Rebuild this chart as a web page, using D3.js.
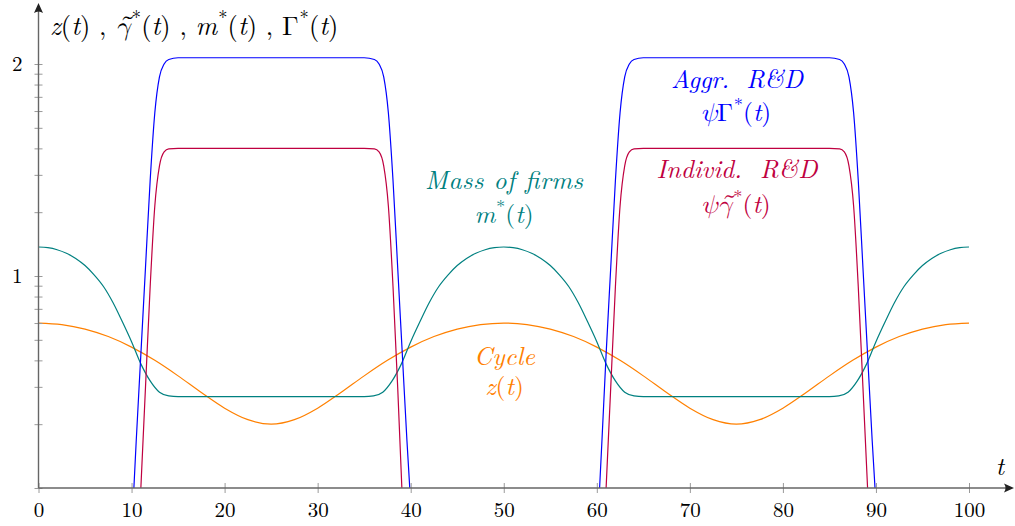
<!DOCTYPE html>
<html>
<head>
<meta charset="utf-8">
<script src="https://cdn.jsdelivr.net/npm/d3@7"></script>
<style>
	body { margin: 0; background: #fff; }
</style>
</head>
<body>
<svg id="chart" width="1015" height="526"></svg>
<script>
// values (y axis is log10)
var tCycle = [0, 2.5, 5, 7.5, 10, 12.5, 15, 17.5, 20, 22.5, 25, 27.5, 30, 32.5, 35, 37.5, 40, 42.5, 45, 47.5,
	50, 52.5, 55, 57.5, 60, 62.5, 65, 67.5, 70, 72.5, 75, 77.5, 80, 82.5, 85, 87.5, 90, 92.5, 95, 97.5, 100];
var zCycle = [6.0, 5.9, 5.62, 5.18, 4.62, 4.0, 3.38, 2.82, 2.38, 2.1, 2.0, 2.1, 2.38, 2.82, 3.38, 4.0, 4.62, 5.18, 5.62, 5.9,
	6.0, 5.9, 5.62, 5.18, 4.62, 4.0, 3.38, 2.82, 2.38, 2.1, 2.0, 2.1, 2.38, 2.82, 3.38, 4.0, 4.62, 5.18, 5.62, 5.9, 6.0];

var tMass = [0, 1, 2, 3, 4, 5, 6, 7, 8, 9, 10, 11, 12, 13, 14, 15, 35, 36, 37, 38, 39, 40, 41, 42, 43, 44, 45, 46, 47, 48, 49,
	50, 51, 52, 53, 54, 55, 56, 57, 58, 59, 60, 61, 62, 63, 64, 65, 85, 86, 87, 88, 89, 90, 91, 92, 93, 94, 95, 96, 97, 98, 99, 100];
var mMass = [13.7, 13.6, 13.3, 12.8, 12.1, 11.2, 10.1, 8.9, 7.5, 6.1, 4.9, 3.85, 3.2, 2.83, 2.72, 2.7, 2.7, 2.72, 2.83, 3.2, 3.85,
	4.9, 6.1, 7.5, 8.9, 10.1, 11.2, 12.1, 12.8, 13.3, 13.6,
	13.7, 13.6, 13.3, 12.8, 12.1, 11.2, 10.1, 8.9, 7.5, 6.1, 4.9, 3.85, 3.2, 2.83, 2.72, 2.7, 2.7, 2.72, 2.83, 3.2, 3.85,
	4.9, 6.1, 7.5, 8.9, 10.1, 11.2, 12.1, 12.8, 13.3, 13.6, 13.7];

// null splits the two pulses (they drop below the axis in between)
var tAggr = [10.25, 10.5, 11, 11.5, 12, 12.5, 13, 13.5, 14, 15, 35, 36.1, 36.6, 37.1, 37.6, 38.1, 38.6, 39.1, 39.6, 39.9, 50,
	60.3, 60.55, 61, 61.5, 62, 62.5, 63, 63.5, 64, 65, 85, 86.1, 86.6, 87.1, 87.6, 88.1, 88.6, 89.1, 89.6, 89.9];
var gAggr = [1, 1.66, 4.27, 11, 28.2, 58.9, 87, 100, 105, 107, 107, 105, 100, 87, 58.9, 28.2, 11, 4.27, 1.66, 1, null,
	1, 1.66, 4.27, 11, 28.2, 58.9, 87, 100, 105, 107, 107, 105, 100, 87, 58.9, 28.2, 11, 4.27, 1.66, 1];

var tInd = [11, 11.5, 12, 12.5, 13, 13.5, 14, 15, 35, 36.1, 36.6, 37.1, 37.6, 38.1, 38.6, 39.05, 50,
	61, 61.5, 62, 62.5, 63, 63.5, 64, 65, 85, 86.1, 86.6, 87.1, 87.6, 88.1, 88.6, 89.1];
var gInd = [1, 3, 8.9, 21.4, 33.1, 38.5, 39.8, 40, 40, 39.8, 38.5, 33.1, 21.4, 8.9, 3, 1, null,
	1, 3, 8.9, 21.4, 33.1, 38.5, 39.8, 40, 40, 39.8, 38.5, 33.1, 21.4, 8.9, 3, 1];

var xTicks = [0, 10, 20, 30, 40, 50, 60, 70, 80, 90, 100];
var yMajor = [10, 100];

var FONT = "'Latin Modern Roman', 'FreeSerif', serif";
var GREEK = "'Latin Modern Math', 'FreeSerif', serif";

var svg = d3.select("#chart");

var x = d3.scaleLinear().domain([0, 100]).range([38.5, 969]);
var y = d3.scaleLog().domain([1, 100]).range([488, 64]);

function zip(ts, vs) {
	return ts.map(function(t, i) { return { t: t, v: vs[i] }; });
}

var line = d3.line()
	.defined(function(d) { return d.v != null; })
	.x(function(d) { return x(d.t); })
	.y(function(d) { return y(d.v); })
	.curve(d3.curveMonotoneX);

svg.append("clipPath").attr("id", "plot")
	.append("rect").attr("x", 38).attr("y", 0).attr("width", 940).attr("height", 488);

var series = [
	{ data: zip(tCycle, zCycle), colour: "#ff8000" },
	{ data: zip(tMass, mMass), colour: "#008080" },
	{ data: zip(tInd, gInd), colour: "#bf0040" },
	{ data: zip(tAggr, gAggr), colour: "#0000ff" }
];

svg.append("g").attr("clip-path", "url(#plot)").selectAll(".curve")
	.data(series)
  .enter().append("path")
	.attr("class", "curve")
	.attr("d", function(d) { return line(d.data); })
	.attr("fill", "none")
	.attr("stroke", function(d) { return d.colour; })
	.attr("stroke-width", 1.2);

// axes
var xAxis = svg.append("g")
	.attr("transform", "translate(0,488)")
	.call(d3.axisBottom(x).tickValues(xTicks).tickFormat(d3.format("d")));
xAxis.select(".domain").remove();
xAxis.selectAll(".tick line").attr("y1", -5).attr("y2", 5).attr("stroke", "#9a9a9a");
xAxis.selectAll(".tick text")
	.attr("y", 29).attr("dy", null)
	.attr("fill", "#000")
	.style("font-family", FONT)
	.style("font-size", "21px");

var yAxis = svg.append("g")
	.attr("transform", "translate(38.5,0)")
	.call(d3.axisLeft(y).tickValues(y.ticks()).tickFormat(function(d) {
		return yMajor.indexOf(d) >= 0 ? Math.round(Math.log10(d)) : "";
	}));
yAxis.select(".domain").remove();
yAxis.selectAll(".tick line").attr("x1", -4).attr("x2", 4).attr("stroke", "#9a9a9a");
yAxis.selectAll(".tick text")
	.attr("x", -16).attr("dy", "0.33em")
	.attr("fill", "#000")
	.style("font-family", FONT)
	.style("font-size", "21px");

svg.append("line")
	.attr("x1", 38.5).attr("y1", 488).attr("x2", 1009).attr("y2", 488)
	.attr("stroke", "#666").attr("stroke-width", 1.4);
svg.append("line")
	.attr("x1", 38.5).attr("y1", 488).attr("x2", 38.5).attr("y2", 8)
	.attr("stroke", "#666").attr("stroke-width", 1.4);
svg.append("path")
	.attr("d", "M1014,488 L1004,483.5 Q1007,488 1004,492.5 Z")
	.attr("fill", "#222");
svg.append("path")
	.attr("d", "M38.5,3 L34,13 Q38.5,10 43,13 Z")
	.attr("fill", "#222");

// math labels: parts are [text, kind]
// i = italic, n = upright, s = superscript, g = italic greek, G = upright greek
function mathText(x0, y0, parts, colour, size, anchor) {
	var text = svg.append("text")
		.attr("x", x0).attr("y", y0)
		.attr("text-anchor", anchor || "middle")
		.attr("fill", colour)
		.style("font-family", FONT)
		.style("font-size", size + "px")
		.style("white-space", "pre");
	var lifted = 0;
	parts.forEach(function(p) {
		var ts = text.append("tspan").text(p[0]);
		if (p[1] === "i" || p[1] === "g") ts.style("font-style", "italic");
		if (p[1] === "g" || p[1] === "G") ts.style("font-family", GREEK);
		if (p[1] === "s") {
			ts.attr("dy", -0.4 * size).attr("dx", 1).style("font-size", (0.7 * size) + "px");
			lifted = 0.4 * size;
		} else if (lifted) {
			ts.attr("dy", lifted);
			lifted = 0;
		}
	});
	return text;
}

function wordText(x0, y0, str, colour, size, width) {
	return svg.append("text")
		.attr("x", x0).attr("y", y0)
		.attr("text-anchor", "middle")
		.attr("fill", colour)
		.attr("textLength", width)
		.attr("lengthAdjust", "spacing")
		.style("font-family", FONT)
		.style("font-style", "italic")
		.style("font-size", size + "px")
		.style("white-space", "pre")
		.text(str);
}

var sep = [" , ", "n"];
mathText(50, 35, [["z", "i"], ["(", "n"], ["t", "i"], [")", "n"], sep,
	["γ̃", "g"], ["*", "s"], ["(", "n"], ["t", "i"], [")", "n"], sep,
	["m", "i"], ["*", "s"], ["(", "n"], ["t", "i"], [")", "n"], sep,
	["Γ", "G"], ["*", "s"], ["(", "n"], ["t", "i"], [")", "n"]], "#000", 26.5, "start");

mathText(1000, 475, [["t", "i"]], "#000", 25);

wordText(504, 189, "Mass of firms", "#008080", 25.5, 158);
mathText(504, 223, [["m", "i"], ["*", "s"], ["(", "n"], ["t", "i"], [")", "n"]], "#008080", 25.5);

wordText(504.5, 365, "Cycle", "#ff8000", 25.5, 61);
mathText(504.5, 395, [["z", "i"], ["(", "n"], ["t", "i"], [")", "n"]], "#ff8000", 25.5);

wordText(737, 88, "Aggr.  R&D", "#0000ff", 25.5, 132);
mathText(736, 121, [["ψ", "g"], ["Γ", "G"], ["*", "s"], ["(", "n"], ["t", "i"], [")", "n"]], "#0000ff", 25.5);

wordText(737, 178, "Individ.  R&D", "#bf0040", 25.5, 161);
mathText(736, 213, [["ψ", "g"], ["γ̃", "g"], ["*", "s"], ["(", "n"], ["t", "i"], [")", "n"]], "#bf0040", 25.5);
</script>
</body>
</html>
